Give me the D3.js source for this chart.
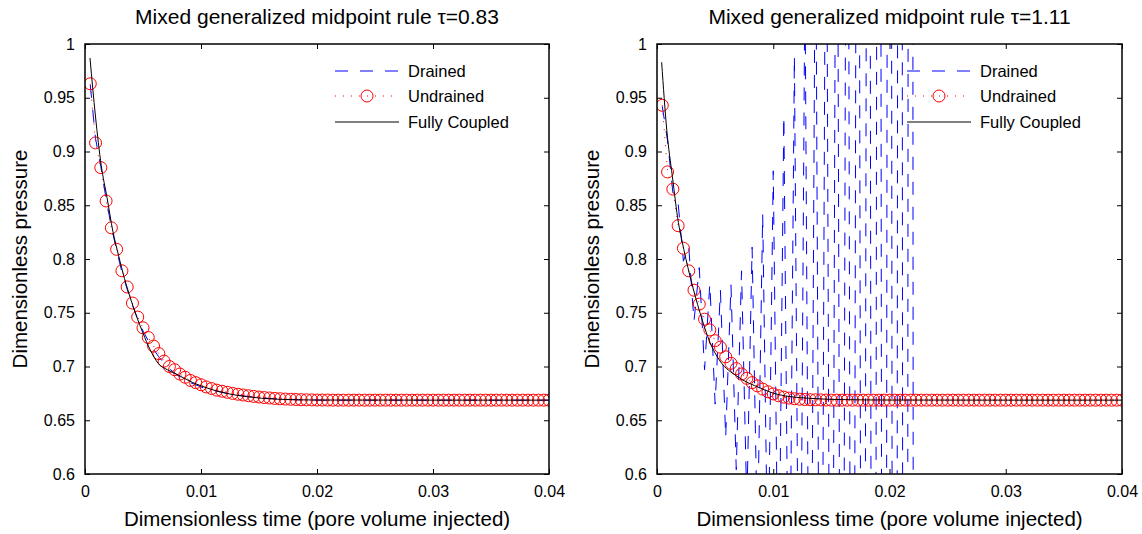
<!DOCTYPE html>
<html>
<head>
<meta charset="utf-8">
<script src="https://cdn.jsdelivr.net/npm/d3@7"></script>
<style>
  body { margin: 0; background: #fff; }
  svg { font-family: "Liberation Sans", Arial, sans-serif; }
</style>
</head>
<body>
<svg id="chart" width="1142" height="534"></svg>
<script>
// time grid: step k = 1..88, t = k * DT (pore volumes injected)
const DT = 0.04 / 88;
const steps = d3.range(1, 89);

const xTicks = [0, 0.01, 0.02, 0.03, 0.04];
const yTicks = [0.6, 0.65, 0.7, 0.75, 0.8, 0.85, 0.9, 0.95, 1];

// left panel, tau = 0.83
const undrainedLeft = [
  0.963, 0.908, 0.885, 0.854, 0.829, 0.809, 0.789, 0.774, 0.759, 0.746,
  0.736, 0.727, 0.719, 0.712, 0.705, 0.700, 0.697, 0.693, 0.690, 0.687,
  0.685, 0.683, 0.681, 0.6795, 0.678, 0.677, 0.676, 0.675, 0.6742, 0.6735,
  0.6728, 0.6722, 0.6716, 0.6711, 0.6707, 0.6703, 0.670, 0.6697, 0.6695, 0.6693,
  0.6691, 0.669, 0.6689, 0.6688, 0.6688, 0.6688, 0.6687, 0.6687, 0.6687, 0.6687,
  0.6687, 0.6687, 0.6687, 0.6687, 0.6687, 0.6687, 0.6687, 0.6687, 0.6687, 0.6687,
  0.6687, 0.6687, 0.6687, 0.6687, 0.6687, 0.6687, 0.6687, 0.6687, 0.6687, 0.6687,
  0.6687, 0.6687, 0.6687, 0.6687, 0.6687, 0.6687, 0.6687, 0.6687, 0.6687, 0.6687,
  0.6687, 0.6687, 0.6687, 0.6687, 0.6687, 0.6687, 0.6687, 0.6687
];
const drainedLeft = [
  0.962, 0.912, 0.886, 0.856, 0.830, 0.808, 0.788, 0.772, 0.757, 0.744,
  0.733, 0.724, 0.716, 0.709, 0.703, 0.698, 0.694, 0.690, 0.687, 0.685,
  0.683, 0.681, 0.679, 0.678, 0.677, 0.676, 0.675, 0.674, 0.6733, 0.6727,
  0.6721, 0.6716, 0.6711, 0.6707, 0.6703, 0.670, 0.6697, 0.6695, 0.6693, 0.6691,
  0.669, 0.6689, 0.6688, 0.6688, 0.6687, 0.6687, 0.6687, 0.6687, 0.6687, 0.6687,
  0.6687, 0.6687, 0.6687, 0.6687, 0.6687, 0.6687, 0.6687, 0.6687, 0.6687, 0.6687,
  0.6687, 0.6687, 0.6687, 0.6687, 0.6687, 0.6687, 0.6687, 0.6687, 0.6687, 0.6687,
  0.6687, 0.6687, 0.6687, 0.6687, 0.6687, 0.6687, 0.6687, 0.6687, 0.6687, 0.6687,
  0.6687, 0.6687, 0.6687, 0.6687, 0.6687, 0.6687, 0.6687, 0.6687
];
const coupledLeftT = [0.00043, 0.0009, 0.0014, 0.0019, 0.0024, 0.0029, 0.0034, 0.0039, 0.0044,
  0.005, 0.0056, 0.0063, 0.0071, 0.0079, 0.0093, 0.0108, 0.0122, 0.0139, 0.0165, 0.02, 0.03, 0.04];
const coupledLeft = [0.987, 0.933, 0.887, 0.857, 0.826, 0.803, 0.782, 0.764, 0.748,
  0.731, 0.716, 0.703, 0.697, 0.6928, 0.685, 0.679, 0.675, 0.672, 0.6696, 0.6688, 0.6687, 0.6687];

// right panel, tau = 1.11
const undrainedRight = [
  0.943, 0.881, 0.865, 0.831, 0.810, 0.789, 0.771, 0.758, 0.744, 0.734,
  0.724, 0.718, 0.709, 0.703, 0.698, 0.693, 0.689, 0.685, 0.682, 0.679,
  0.6765, 0.6745, 0.6728, 0.6715, 0.6706, 0.670, 0.6696, 0.6693, 0.6691, 0.669,
  0.6689, 0.6688, 0.6687, 0.6687, 0.6687, 0.6687, 0.6687, 0.6687, 0.6687, 0.6687,
  0.6687, 0.6687, 0.6687, 0.6687, 0.6687, 0.6687, 0.6687, 0.6687, 0.6687, 0.6687,
  0.6687, 0.6687, 0.6687, 0.6687, 0.6687, 0.6687, 0.6687, 0.6687, 0.6687, 0.6687,
  0.6687, 0.6687, 0.6687, 0.6687, 0.6687, 0.6687, 0.6687, 0.6687, 0.6687, 0.6687,
  0.6687, 0.6687, 0.6687, 0.6687, 0.6687, 0.6687, 0.6687, 0.6687, 0.6687, 0.6687,
  0.6687, 0.6687, 0.6687, 0.6687, 0.6687, 0.6687, 0.6687, 0.6687
];
// drained solution oscillates and blows up, stops after step 49
const drainedRight = [
  0.942, 0.910, 0.862, 0.852, 0.798, 0.812, 0.742, 0.792, 0.697, 0.777,
  0.665, 0.771, 0.634, 0.776, 0.604, 0.789, 0.571, 0.811, 0.537, 0.842,
  0.497, 0.882, 0.449, 0.933, 0.390, 0.989, 0.316, 1.068, 0.225, 1.169,
  0.110, 1.295, -0.032, 1.454, -0.210, 1.654, -0.431, 1.909, -0.711, 2.219,
  -1.071, 2.609, -1.511, 3.109, -2.061, 3.729, -2.761, 4.509, -3.631
];
const coupledRightT = [0.0004, 0.00084, 0.00132, 0.00184, 0.00213, 0.00284, 0.0037, 0.00457,
  0.00543, 0.00687, 0.00888, 0.0104, 0.013, 0.016, 0.02, 0.03, 0.04];
const coupledRight = [0.983, 0.920, 0.877, 0.834, 0.818, 0.784, 0.750, 0.722,
  0.705, 0.691, 0.680, 0.674, 0.6705, 0.6692, 0.6688, 0.6687, 0.6687];

const legendLabels = ["Drained", "Undrained", "Fully Coupled"];

const svg = d3.select("#chart");
const TOP = 44, BOTTOM = 474;

function drawPanel(id, left, right, title, drained, undrained, coupledT, coupled) {
  const x = d3.scaleLinear().domain([0, 0.04]).range([left, right]);
  const y = d3.scaleLinear().domain([0.6, 1]).range([BOTTOM, TOP]);
  const g = svg.append("g");

  svg.append("clipPath").attr("id", "clip-" + id)
    .append("rect").attr("x", left).attr("y", TOP)
    .attr("width", right - left).attr("height", BOTTOM - TOP);

  const plot = g.append("g").attr("clip-path", `url(#clip-${id})`);
  const line = d3.line().x(d => x(d[0])).y(d => y(d[1]));

  const drainedPts = drained.map((v, i) => [steps[i] * DT, v]);
  const undrainedPts = undrained.map((v, i) => [steps[i] * DT, v]);
  const coupledPts = coupled.map((v, i) => [coupledT[i], v]);

  plot.append("path").attr("d", line(drainedPts))
    .attr("fill", "none").attr("stroke", "#0000ff").attr("stroke-width", 1)
    .attr("stroke-dasharray", "13,12");

  plot.append("path").attr("d", line(undrainedPts))
    .attr("fill", "none").attr("stroke", "#ff0000").attr("stroke-width", 1)
    .attr("stroke-dasharray", "1,7");

  plot.selectAll("circle.und").data(undrainedPts).enter()
    .append("circle").attr("class", "und")
    .attr("cx", d => x(d[0])).attr("cy", d => y(d[1])).attr("r", 6)
    .attr("fill", "none").attr("stroke", "#ff0000").attr("stroke-width", 1);

  plot.append("path").attr("d", line.curve(d3.curveMonotoneX)(coupledPts))
    .attr("fill", "none").attr("stroke", "#000").attr("stroke-width", 1);

  // axes, ticks pointing inward on all four sides
  const fmt = d => String(d);
  g.append("g").attr("transform", `translate(0,${BOTTOM})`)
    .call(d3.axisBottom(x).tickValues(xTicks).tickSize(-5).tickSizeOuter(0).tickPadding(12).tickFormat(fmt));
  g.append("g").attr("transform", `translate(0,${TOP})`)
    .call(d3.axisTop(x).tickValues(xTicks).tickSize(-5).tickSizeOuter(0).tickFormat(""));
  g.append("g").attr("transform", `translate(${left},0)`)
    .call(d3.axisLeft(y).tickValues(yTicks).tickSize(-5).tickSizeOuter(0).tickPadding(10).tickFormat(fmt));
  g.append("g").attr("transform", `translate(${right},0)`)
    .call(d3.axisRight(y).tickValues(yTicks).tickSize(-5).tickSizeOuter(0).tickFormat(""));
  g.selectAll(".domain").remove();
  g.selectAll(".tick line").attr("stroke", "#000");
  g.selectAll(".tick text").attr("font-size", 16).attr("fill", "#000")
    .attr("font-family", "Liberation Sans, Arial, sans-serif");

  g.append("rect").attr("x", left).attr("y", TOP)
    .attr("width", right - left).attr("height", BOTTOM - TOP)
    .attr("fill", "none").attr("stroke", "#000").attr("stroke-width", 1.5);

  const cx = (left + right) / 2;
  g.append("text").attr("x", cx).attr("y", 24).attr("text-anchor", "middle")
    .attr("font-size", 21).text(title);
  g.append("text").attr("x", cx).attr("y", 526).attr("text-anchor", "middle")
    .attr("font-size", 20.5).text("Dimensionless time (pore volume injected)");
  g.append("text").attr("transform", `translate(${left - 58},${(TOP + BOTTOM) / 2}) rotate(-90)`)
    .attr("text-anchor", "middle").attr("font-size", 20.5).text("Dimensionless pressure");

  // legend
  const lx = left + 250, rows = [71, 96, 122];
  const lg = g.append("g");
  lg.append("line").attr("x1", lx).attr("x2", lx + 64).attr("y1", rows[0]).attr("y2", rows[0])
    .attr("stroke", "#0000ff").attr("stroke-dasharray", "13,12");
  lg.append("line").attr("x1", lx).attr("x2", lx + 64).attr("y1", rows[1]).attr("y2", rows[1])
    .attr("stroke", "#ff0000").attr("stroke-dasharray", "1,7");
  lg.append("circle").attr("cx", lx + 32).attr("cy", rows[1]).attr("r", 6)
    .attr("fill", "none").attr("stroke", "#ff0000");
  lg.append("line").attr("x1", lx).attr("x2", lx + 64).attr("y1", rows[2]).attr("y2", rows[2])
    .attr("stroke", "#000");
  lg.selectAll("text").data(legendLabels).enter().append("text")
    .attr("x", lx + 73).attr("y", (d, i) => rows[i] + 6)
    .attr("font-size", 16.5).text(d => d);
}

drawPanel("a", 85, 549, "Mixed generalized midpoint rule \u03c4=0.83",
  drainedLeft, undrainedLeft, coupledLeftT, coupledLeft);
drawPanel("b", 657, 1122, "Mixed generalized midpoint rule \u03c4=1.11",
  drainedRight, undrainedRight, coupledRightT, coupledRight);
</script>
</body>
</html>
